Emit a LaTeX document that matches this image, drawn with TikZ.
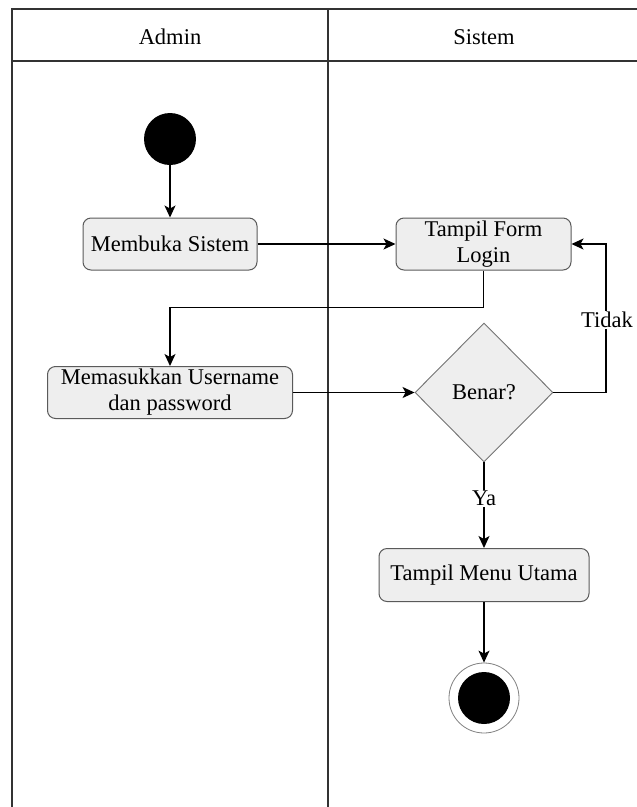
\documentclass[tikz,border=0pt]{standalone}
\usepackage{fontspec}
\setmainfont{Liberation Serif}
\usetikzlibrary{arrows.meta,shapes.geometric}
\definecolor{boxfill}{HTML}{EEEEEE}
\definecolor{boxline}{HTML}{5A5A5A}
\definecolor{laneline}{HTML}{333333}
\begin{document}
\begin{tikzpicture}[x=1pt,y=-1pt,
  every node/.style={font=\fontsize{22.5}{26}\selectfont},
  lane/.style={draw=laneline, line width=1.8pt},
  act/.style={draw=boxline, fill=boxfill, rounded corners=8pt, line width=1pt,
    inner sep=0pt, align=center},
  decision/.style={diamond, draw=black!55, fill=boxfill, line width=0.9pt,
    inner sep=0pt, minimum width=138pt, minimum height=139pt},
  flow/.style={draw=black, line width=1.3pt,
    -{Stealth[length=12pt,width=11pt,inset=3pt]}},
  lbl/.style={fill=white, inner sep=1pt}]
\useasboundingbox (0,0) rectangle (637,807);

% swimlanes
\draw[lane] (12,807) -- (12,9) -- (637,9);
\draw[lane] (12,61) -- (637,61);
\draw[lane] (328,9) -- (328,807);
\node (hadmin) at (170,37) {Admin};
\node (hsistem) at (484,37) {Sistem};

% activities
\node[circle, fill=black, minimum size=52pt, inner sep=0pt] (start) at (170,139) {};
\node[act, minimum width=174pt, minimum height=52pt] (membuka) at (170,244) {Membuka Sistem};
\node[act, minimum width=175pt, minimum height=52pt] (form) at (483.5,244) {Tampil Form\\Login};
\node[act, minimum width=245pt, minimum height=52pt] (masuk) at (170,392.5) {Memasukkan Username\\dan password};
\node[decision] (benar) at (484,392.5) {Benar?};
\node[act, minimum width=210pt, minimum height=53pt] (menu) at (484,575) {Tampil Menu Utama};
\node[circle, draw=black!50, line width=0.8pt, minimum size=70pt, inner sep=0pt] (finish) at (484,698) {};
\node[circle, fill=black, minimum size=52pt, inner sep=0pt] (finishdot) at (484,698) {};

% control flow
\coordinate (bend) at (606,392.5);
\draw[flow] (start) -- (membuka);
\draw[flow] (membuka) -- (form);
\draw[flow] (form.south) -- ++(0,37) -| (masuk.north);
\draw[flow] (masuk.east) -- (benar.west);
\draw[flow] (benar.east) -- (bend) |- (form.east);
\node[lbl] (tidak) at (607,320) {Tidak};
\draw[flow] (benar.south) -- node[lbl, pos=0.42] (ya) {Ya} (menu.north);
\draw[flow] (menu) -- (finish);
\end{tikzpicture}
\end{document}
